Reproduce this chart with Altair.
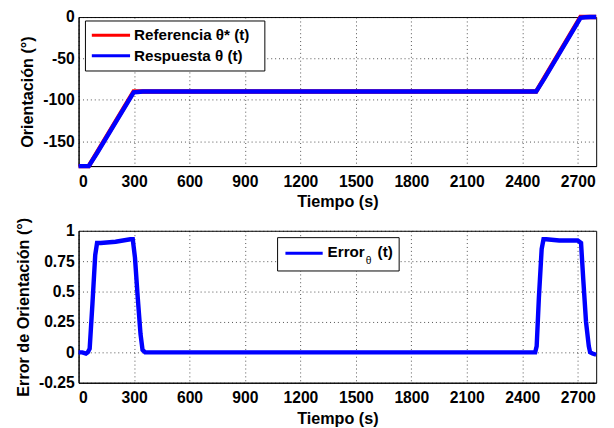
import altair as alt
import pandas as pd

# Reference orientation theta*(t)
ref_t = [0, 55, 298, 2475, 2715, 2800]
ref_v = [-180, -180, -90, -90, 0, 0]

# Response theta(t)
resp_t = [0, 55, 100, 298, 320, 346, 2475, 2520, 2715, 2740, 2767, 2800]
resp_v = [-180, -180, -164.2, -90.93, -90.45, -90, -90, -74.05, -0.92, -0.25, 0, 0]

# Orientation error
err_t = [0, 20, 40, 50, 60, 75, 90, 100, 120, 200, 280, 293, 305, 320, 335, 346, 360,
         1000, 2000, 2470, 2478, 2490, 2505, 2515, 2530, 2600, 2700, 2718, 2730, 2745,
         2760, 2767, 2780, 2800]
err_v = [0.0, 0.0, -0.01, 0.0, 0.03, 0.4, 0.8, 0.9, 0.9, 0.91, 0.93, 0.93, 0.78, 0.45,
         0.15, 0.02, 0, 0, 0, 0, 0.05, 0.45, 0.85, 0.93, 0.93, 0.92, 0.92, 0.9, 0.6, 0.25,
         0.05, 0.0, -0.01, -0.02]

x_ticks = [0, 300, 600, 900, 1200, 1500, 1800, 2100, 2400, 2700]
top_ticks = [0, -50, -100, -150]
bot_ticks = [-0.25, 0, 0.25, 0.5, 0.75, 1]

FONT = "Liberation Sans"
W, H1, H2 = 528, 152, 155

df_ref = pd.DataFrame({"t": ref_t, "v": ref_v})
df_resp = pd.DataFrame({"t": resp_t, "v": resp_v})
df_err = pd.DataFrame({"t": err_t, "v": err_v})
one = pd.DataFrame({"a": [0]})

xenc = alt.X("t:Q", scale=alt.Scale(domain=[0, 2800], nice=False, zero=False),
             axis=alt.Axis(values=x_ticks, title="Tiempo (s)", format="d"))

top_y = alt.Y("v:Q", scale=alt.Scale(domain=[-180, 0], nice=False, zero=False),
              axis=alt.Axis(values=top_ticks, title="Orientación (°)",
                            labelExpr="datum.value + ''"))
bot_y = alt.Y("v:Q", scale=alt.Scale(domain=[-0.25, 1], nice=False, zero=False),
              axis=alt.Axis(values=bot_ticks, title="Error de Orientación (°)",
                            labelExpr="datum.value + ''"))

ref_line = alt.Chart(df_ref).mark_line(color="#ff0000", strokeWidth=4.5).encode(x=xenc, y=top_y)
resp_line = alt.Chart(df_resp).mark_line(color="#0000ff", strokeWidth=4.5).encode(x=xenc, y=top_y)

LFS = 15.5
# top legend
leg1_box = alt.Chart(one).mark_rect(fill="white", stroke="black", strokeWidth=1).encode(
    x=alt.value(7), x2=alt.value(190), y=alt.value(4), y2=alt.value(55))
leg1_red = alt.Chart(one).mark_rule(color="#ff0000", strokeWidth=3).encode(
    x=alt.value(13.5), x2=alt.value(52.5), y=alt.value(18.5))
leg1_blue = alt.Chart(one).mark_rule(color="#0000ff", strokeWidth=3).encode(
    x=alt.value(13.5), x2=alt.value(52.5), y=alt.value(39.5))
leg1_t1 = alt.Chart(one).mark_text(text="Referencia θ* (t)", align="left", baseline="middle",
                                   font=FONT, fontSize=LFS, fontWeight="bold").encode(
    x=alt.value(56.5), y=alt.value(18.5))
leg1_t2 = alt.Chart(one).mark_text(text="Respuesta θ (t)", align="left", baseline="middle",
                                   font=FONT, fontSize=LFS, fontWeight="bold").encode(
    x=alt.value(56.5), y=alt.value(39.5))

top = alt.layer(ref_line, resp_line, leg1_box, leg1_red, leg1_blue, leg1_t1, leg1_t2).properties(
    width=W, height=H1)

err_line = alt.Chart(df_err).mark_line(color="#0000ff", strokeWidth=4.5).encode(x=xenc, y=bot_y)

leg2_box = alt.Chart(one).mark_rect(fill="white", stroke="black", strokeWidth=1).encode(
    x=alt.value(203), x2=alt.value(327), y=alt.value(7), y2=alt.value(41))
leg2_line = alt.Chart(one).mark_rule(color="#0000ff", strokeWidth=3).encode(
    x=alt.value(211), x2=alt.value(249), y=alt.value(23))
leg2_t1 = alt.Chart(one).mark_text(text="Error", align="left", baseline="middle",
                                   font=FONT, fontSize=LFS, fontWeight="bold").encode(
    x=alt.value(254), y=alt.value(22))
leg2_sub = alt.Chart(one).mark_text(text="θ", align="left", baseline="middle",
                                    font=FONT, fontSize=10.5).encode(
    x=alt.value(293), y=alt.value(31))
leg2_t2 = alt.Chart(one).mark_text(text="(t)", align="left", baseline="middle",
                                   font=FONT, fontSize=LFS, fontWeight="bold").encode(
    x=alt.value(305), y=alt.value(22))

bottom = alt.layer(err_line, leg2_box, leg2_line, leg2_t1, leg2_sub, leg2_t2).properties(
    width=W, height=H2)

chart = alt.vconcat(top, bottom, spacing=5).properties(
    padding={"left": 7, "top": -5, "right": 0, "bottom": 0}
).configure_view(
    stroke="black", strokeWidth=1
).configure_axis(
    labelFont=FONT, labelFontSize=16, labelColor="black", labelFontWeight="bold",
    titleFont=FONT, titleFontSize=16.5, titleColor="black", titleFontWeight="bold",
    domainColor="black", ticks=False, labelPadding=4.5,
    grid=True, gridColor="black", gridDash=[1, 3], gridOpacity=0.7, gridWidth=1,
).configure_axisX(titlePadding=5, labelPadding=7.5).configure_axisY(titlePadding=7)

chart.save("out.html", embed_options={"renderer": "svg", "actions": False})
